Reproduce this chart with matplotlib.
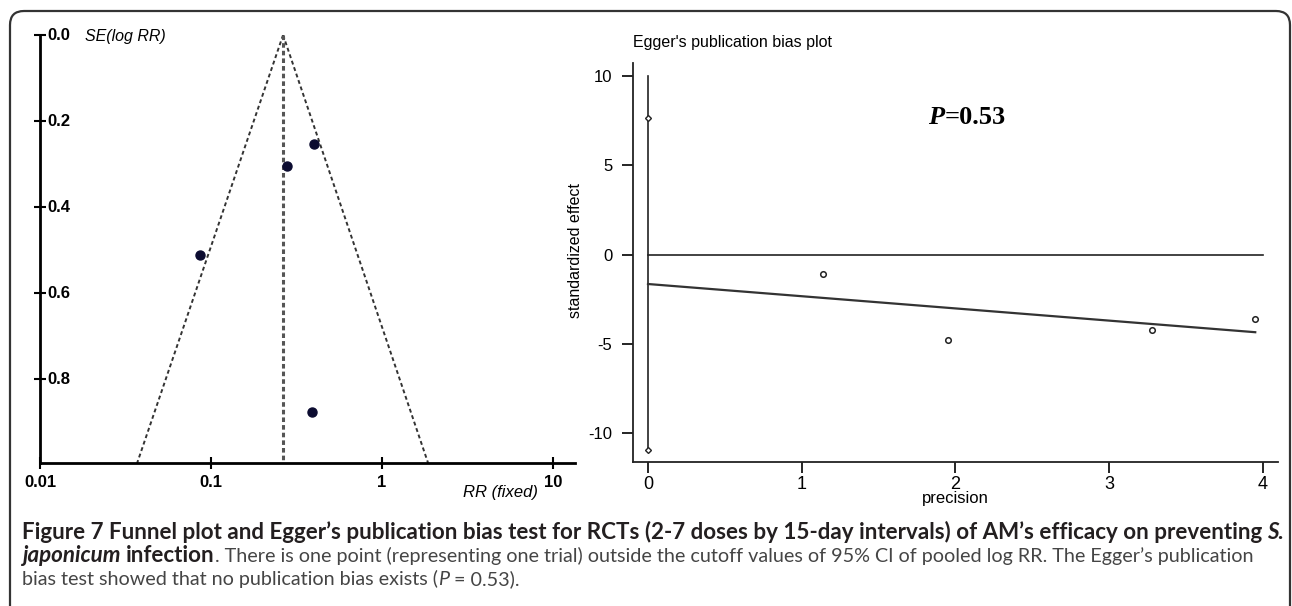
import numpy as np
import matplotlib
matplotlib.use("Agg")
import matplotlib.pyplot as plt
import matplotlib.transforms as mtransforms
from matplotlib.patches import FancyBboxPatch

# Funnel plot: RR of each trial and SE(log RR)
trial_rr = [0.40, 0.278, 0.0863, 0.39]
trial_se = [0.253, 0.305, 0.512, 0.877]
pooled_rr = 0.264
funnel_se = [0.0, 0.995]
funnel_lo = [0.264, 0.037]
funnel_hi = [0.264, 1.86]
rr_ticks = [0.01, 0.1, 1, 10]
rr_labels = ["0.01", "0.1", "1", "10"]
se_ticks = [0.0, 0.2, 0.4, 0.6, 0.8]

# Egger plot: precision vs standardized effect
precision = [3.95, 3.28, 1.95, 1.14]
std_effect = [-3.62, -4.20, -4.79, -1.07]
reg_x = [0.0, 3.95]
reg_y = [-1.65, -4.35]
ci_ends = [-10.96, 7.64]
ci_top = 10.0
zero_x = [0.0, 4.0]
egger_yticks = [10, 5, 0, -5, -10]
egger_xticks = [0, 1, 2, 3, 4]

W, H = 1292, 606
fig = plt.figure(figsize=(W / 100, H / 100), dpi=100)
renderer = fig.canvas.get_renderer()

def fx(px):
    return px / W

def fy(py):
    return 1 - py / H

narrow = ["Liberation Sans Narrow", "Liberation Sans", "DejaVu Sans"]
arial = ["Liberation Sans", "DejaVu Sans"]

# rounded border round the whole figure
border = FancyBboxPatch((10, -20), 1280, H - 11 + 20,
                        boxstyle="round,pad=0,rounding_size=14",
                        transform=mtransforms.IdentityTransform(),
                        fill=False, lw=1.6, ec="#333333")
fig.patches.append(border)

# ---- left panel: funnel plot ----
ax1 = fig.add_axes([fx(40), fy(463), fx(575) - fx(40), (463 - 35) / H])
ax1.set_xscale("log")
ax1.set_xlim(0.01, 10 ** (-2 + (575 - 40) / 171))
ax1.set_ylim(0.995, 0)
for s in ["top", "right"]:
    ax1.spines[s].set_visible(False)
for s in ["left", "bottom"]:
    ax1.spines[s].set_linewidth(2)
ax1.plot(funnel_lo, funnel_se, ls=(0, (2, 1.5)), color="#333333", lw=1.4)
ax1.plot(funnel_hi, funnel_se, ls=(0, (2, 1.5)), color="#333333", lw=1.4)
ax1.plot([pooled_rr, pooled_rr], funnel_se, ls=(0, (1.5, 1)), color="#555555", lw=2.2)
ax1.plot(trial_rr, trial_se, "o", ms=6.5, color="#0b0b30", zorder=5)
ax1.set_xticks(rr_ticks)
ax1.set_xticklabels(rr_labels, fontfamily=narrow, fontweight="bold", fontsize=12)
ax1.xaxis.set_minor_locator(matplotlib.ticker.NullLocator())
ax1.tick_params(axis="x", direction="inout", length=9, width=1.5, pad=4)
ax1.set_yticks(se_ticks)
ax1.set_yticklabels([])
ax1.tick_params(axis="y", direction="inout", length=8, width=1.5)
lab_tr = mtransforms.offset_copy(ax1.get_yaxis_transform(), fig=fig, x=7, y=0, units="dots")
for v in se_ticks:
    ax1.text(0, v, f"{v:.1f}", transform=lab_tr, ha="left", va="center",
             fontfamily=narrow, fontweight="bold", fontsize=12)
fig.text(fx(85), fy(37), "SE(log RR)", ha="left", va="center",
         fontfamily=narrow, fontstyle="italic", fontsize=11.5)
fig.text(fx(538), fy(492), "RR (fixed)", ha="right", va="center",
         fontfamily=narrow, fontstyle="italic", fontsize=12)

# ---- right panel: Egger plot ----
ax2 = fig.add_axes([fx(633), fy(462), fx(1278) - fx(633), (462 - 63) / H])
ax2.set_xlim(-0.0976, 4.098)
ax2.set_ylim(-11.62, 10.73)
for s in ["top", "right"]:
    ax2.spines[s].set_visible(False)
for s in ["left", "bottom"]:
    ax2.spines[s].set_linewidth(1.3)
    ax2.spines[s].set_color("#222222")
ax2.plot(zero_x, [0, 0], color="#222222", lw=1.2)
ax2.plot([0, 0], [ci_ends[0], ci_top], color="#222222", lw=1.2)
ax2.plot([0, 0], ci_ends, "D", ms=3, mfc="white", mec="#222222", mew=1)
ax2.plot(reg_x, reg_y, color="#333333", lw=1.6)
ax2.plot(precision, std_effect, "o", ms=4, mfc="white", mec="#222222", mew=1.1)
ax2.set_yticks(egger_yticks)
ax2.set_yticklabels([str(v) for v in egger_yticks], fontfamily=arial, fontsize=12)
ax2.tick_params(axis="y", direction="out", length=8, width=1.2, pad=7)
ax2.set_xticks(egger_xticks)
ax2.set_xticklabels([str(v) for v in egger_xticks], fontfamily=narrow, fontsize=13)
ax2.tick_params(axis="x", direction="out", length=8, width=1.2, pad=2)
fig.text(fx(633), fy(42), "Egger's publication bias plot", ha="left", va="center",
         fontfamily=arial, fontsize=11.5)
fig.text(fx(575), fy(250), "standardized effect", ha="center", va="center",
         rotation=90, fontfamily=arial, fontsize=11.5)
fig.text(fx(955), fy(499), "precision", ha="center", va="center",
         fontfamily=narrow, fontsize=12)
tp = fig.text(fx(928), fy(118), "P", ha="left", va="center", fontfamily="Liberation Serif",
              fontweight="bold", fontstyle="italic", fontsize=19)
bb = tp.get_window_extent(renderer)
fig.text(bb.x1 / W, fy(118), "=0.53", ha="left", va="center", fontfamily="Liberation Serif",
         fontweight="bold", fontsize=19)

# ---- caption ----
dark = "#231f20"
grey = "#454545"
cap1 = [("Figure 7 Funnel plot and Egger\u2019s publication bias test for RCTs (2-7 doses by "
         "15-day intervals) of AM\u2019s efficacy on preventing", "bold", "normal", False),
        ("S.", "bold", "italic", True)]
cap2 = [("japonicum", "bold", "italic", False),
        ("infection", "bold", "normal", True),
        (". There is one point (representing one trial) outside the cutoff values of 95% CI "
         "of pooled log RR. The Egger\u2019s publication", "normal", "normal", False)]
cap3 = [("bias test showed that no publication bias exists (", "normal", "normal", False),
        ("P", "normal", "italic", False),
        ("= 0.53).", "normal", "normal", True)]

def width_of(text, weight, style, size):
    t = fig.text(0, 0, text, fontfamily="Lato", fontweight=weight, fontstyle=style, fontsize=size)
    w = t.get_window_extent(renderer).width
    t.remove()
    return w

def run_width(run, size):
    text, weight, style, gap = run
    w = width_of(text, weight, style, size)
    if gap:
        w += width_of("a a", weight, style, size) - width_of("aa", weight, style, size)
    return w

base = 12.0
bold_size = base * (1278 - 22) / sum(run_width(r, base) for r in cap1)
bold_part = sum(run_width(r, bold_size) for r in cap2[:2])
reg_size = base * (1253 - 22 - bold_part) / run_width(cap2[2], base)

def draw_runs(runs, x0, ypx):
    x = x0
    for run in runs:
        text, weight, style, gap = run
        size = bold_size if weight == "bold" else reg_size
        color = dark if weight == "bold" else grey
        if gap:
            x += width_of("a a", weight, style, size) - width_of("aa", weight, style, size)
        t = fig.text(x / W, fy(ypx), text, ha="left", va="baseline", fontfamily="Lato",
                     fontweight=weight, fontstyle=style, fontsize=size, color=color)
        x += t.get_window_extent(renderer).width

draw_runs(cap1, 22, 539)
draw_runs(cap2, 22, 562)
draw_runs(cap3, 22, 585)

fig.savefig("out.png", dpi=100)
